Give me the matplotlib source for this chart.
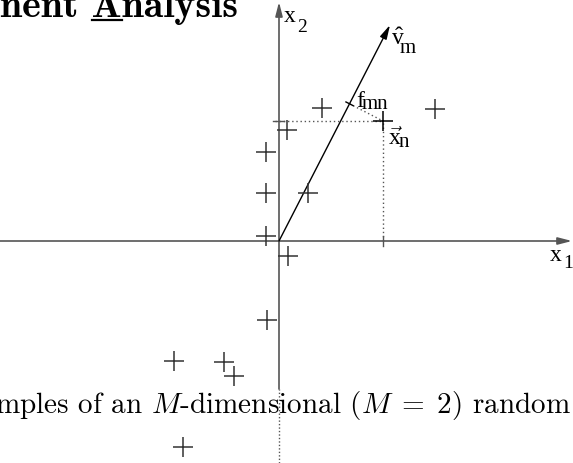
import numpy as np
import matplotlib.pyplot as plt
from matplotlib.patches import FancyArrowPatch

plt.rcParams['mathtext.fontset'] = 'custom'
plt.rcParams['mathtext.rm'] = 'Liberation Serif'
plt.rcParams['mathtext.it'] = 'Liberation Serif:italic'

# samples (x1, x2) of the 2-d random vector
sample_x1 = [-1.3, -1.3, -1.3, 2.9, 0.9, 4.3, 15.6, 0.8, -1.2, -10.5, -5.5, -4.5, -9.6]
sample_x2 = [8.9, 4.8, 0.5, 4.8, -1.5, 13.3, 13.2, 11.1, -7.9, -12.0, -12.1, -13.5, -20.6]
# the highlighted sample x_n and the direction v_m
xn = np.array([10.4, 12.0])
vm = np.array([11.1, 21.6])

title_text = 'nent Analysis'
caption = r'mples of an $M$-dimensional ($M\;=\;2$) random'

axis_col = '#555555'
mark_col = '#333333'

fig = plt.figure(figsize=(5.73, 4.64), dpi=100)
ax = fig.add_axes([0, 0, 1, 1])
x0, x1 = -27.9, 29.4
y0, y1 = -22.2, 24.2
ax.set_xlim(x0, x1)
ax.set_ylim(y0, y1)
ax.axis('off')


def arrow(p, q, col, lw):
    a = FancyArrowPatch(p, q, arrowstyle='-|>,head_length=0.7,head_width=0.18',
                        mutation_scale=12, color=col, lw=lw, shrinkA=0, shrinkB=0)
    ax.add_patch(a)


# coordinate axes
arrow((x0, 0), (x1 - 0.1, 0), axis_col, 1.2)
arrow((0, -14.8), (0, 23.9), axis_col, 1.2)
ax.plot([0, 0], [y0, -14.8], color=axis_col, lw=1.0, ls=(0, (1, 1.5)))

# principal direction
arrow((0, 0), tuple(vm), 'black', 1.0)

# projection of x_n onto v_m
u = vm / np.linalg.norm(vm)
f = np.dot(xn, u) * u
perp = np.array([u[1], -u[0]])
dot = dict(color=axis_col, lw=1.0, ls=(0, (1, 2)))
ax.plot([-0.4, xn[0]], [xn[1], xn[1]], **dot)
ax.plot([xn[0], xn[0]], [0, xn[1]], **dot)
ax.plot([f[0], xn[0]], [f[1], xn[1]], **dot)
ax.plot([f[0] - 0.4 * perp[0], f[0] + 0.4 * perp[0]],
        [f[1] - 0.4 * perp[1], f[1] + 0.4 * perp[1]], color='black', lw=1.0)
ax.plot([xn[0], xn[0]], [-0.5, 0.5], color=axis_col, lw=1.0)
ax.plot([-0.6, 0.5], [xn[1], xn[1]], color=axis_col, lw=1.0)

# samples
ax.plot(sample_x1, sample_x2, '+', color=mark_col, ms=14, mew=1.1)
ax.plot([xn[0]], [xn[1]], '+', color='black', ms=14, mew=1.1)

# labels
lab = dict(family='Liberation Serif', va='baseline', color='black')
ax.text(0.5, 22.0, 'x', fontsize=17, **lab)
ax.text(1.8, 21.0, '2', fontsize=14, **lab)
ax.text(27.1, -1.9, 'x', fontsize=17, **lab)
ax.text(28.4, -2.6, '1', fontsize=14, **lab)
ax.text(11.2, 19.7, r'$\hat{\mathrm{v}}$', fontsize=17, math_fontfamily='custom', **lab)
ax.text(12.1, 18.9, 'm', fontsize=15, **lab)
ax.text(7.7, 13.5, 'f', fontsize=17, **lab)
ax.text(8.3, 13.3, 'mn', fontsize=15, **lab)
ax.text(10.9, 9.7, r'$\vec{\mathrm{x}}$', fontsize=17, math_fontfamily='custom', **lab)
ax.text(12.0, 9.5, 'n', fontsize=15, **lab)

# slide title (cut at the left edge) with underlined initial
tsize = 28.7
ttl = ax.text(x0, 22.5, title_text, family='cmb10', fontsize=tsize, va='baseline')
r = fig.canvas.get_renderer()
inv = ax.transData.inverted()
pre = ax.text(x0, 22.5, 'nent A', family='cmb10', fontsize=tsize, va='baseline')
letter = ax.text(x0, 22.5, 'A', family='cmb10', fontsize=tsize, va='baseline')
w_pre = pre.get_window_extent(r).width
w_a = letter.get_window_extent(r).width
pre.remove()
letter.remove()
px0 = ax.transData.transform((x0, 22.5))[0]
ua = inv.transform((px0 + w_pre - w_a, 0))[0]
ub = inv.transform((px0 + w_pre, 0))[0]
ax.plot([ua, ub], [22.15, 22.15], color='black', lw=1.6)

# caption line
ax.text(29.2, -17.1, caption, family='cmr10', math_fontfamily='cm',
        fontsize=21, ha='right', va='baseline')

fig.savefig('out.png', dpi=100)
